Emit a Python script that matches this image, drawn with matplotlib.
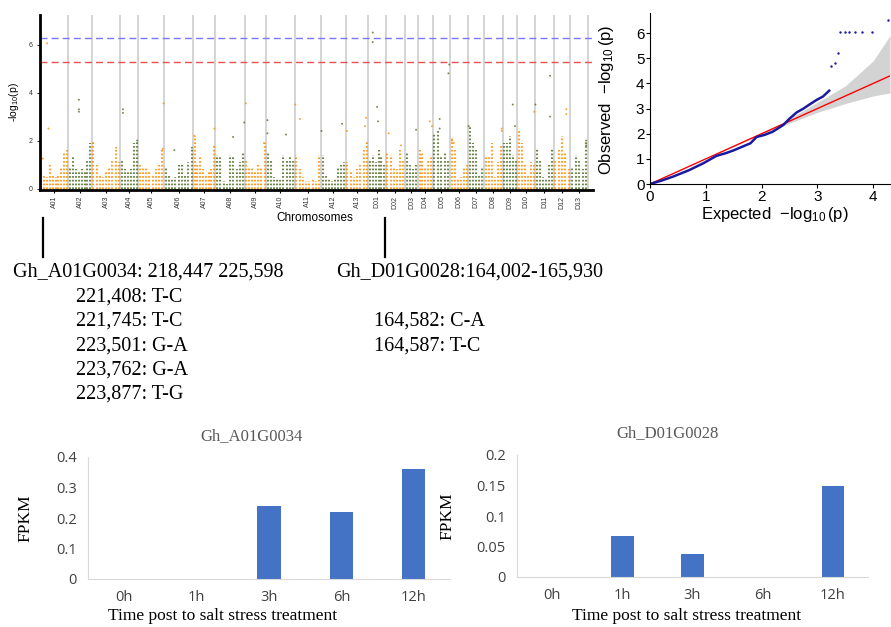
import numpy as np
import matplotlib
matplotlib.use('Agg')
import matplotlib.pyplot as plt
from matplotlib.lines import Line2D

matplotlib.rcParams['mathtext.fontset'] = 'custom'
matplotlib.rcParams['mathtext.rm'] = 'Liberation Sans'
matplotlib.rcParams['mathtext.it'] = 'Liberation Sans:italic'
plt.rcParams['font.family'] = ['Liberation Sans', 'DejaVu Sans']

# ---------------- data ----------------
chrom_names = ['A01', 'A02', 'A03', 'A04', 'A05', 'A06', 'A07', 'A08', 'A09', 'A10', 'A11', 'A12', 'A13',
               'D01', 'D02', 'D03', 'D04', 'D05', 'D06', 'D07', 'D08', 'D09', 'D10', 'D11', 'D12', 'D13']
chrom_len_mb = [99.9, 83.4, 100.3, 62.9, 92.0, 103.2, 78.3, 103.6, 75.0, 100.9, 93.3, 87.5, 80.0,
                61.5, 67.3, 46.7, 51.5, 61.9, 64.3, 55.3, 65.9, 51.0, 63.4, 66.1, 59.1, 61.5]

# upper edge of the dense SNP cloud along each chromosome (-log10 p)
cloud_tops = [
    [0.9, 0.6, 0.5, 1.0, 0.6, 0.5, 0.6, 0.9, 1.5, 1.6],
    [0.9, 1.3, 0.8, 0.7, 0.8, 0.7, 1.2, 1.9],
    [1.9, 1.0, 0.6, 0.5, 0.7, 0.9, 1.2, 1.7, 1.1],
    [1.2, 0.8, 0.7, 0.8, 1.9, 2.0],
    [1.0, 0.9, 0.9, 0.7, 0.6, 0.8, 1.0, 1.7],
    [0.9, 0.6, 0.4, 0.5, 1.0, 1.0, 0.6, 1.1, 1.7],
    [2.2, 1.0, 1.3, 0.8, 0.6, 0.7, 0.8, 1.8],
    [1.4, 1.3, 0.3, 0.2, 1.4, 1.3, 0.8, 1.1, 1.5],
    [1.2, 0.9, 0.9, 0.7, 1.0, 0.9, 1.9],
    [1.5, 1.2, 0.5, 0.4, 0.4, 1.4, 1.2, 1.3, 1.2],
    [1.4, 0.8, 0.5, 0.3, 0.3, 0.4, 0.3, 1.4],
    [1.4, 0.6, 0.4, 0.3, 0.4, 0.9, 1.0, 1.1],
    [1.1, 0.7, 0.5, 0.8, 1.0, 1.6, 2.0],
    [1.2, 1.4, 1.1, 1.6, 1.3, 1.0],
    [1.5, 1.4, 0.9, 0.8, 1.6, 1.2],
    [1.5, 1.0, 0.8, 1.0],
    [1.6, 1.5, 0.9, 1.2, 1.4],
    [2.3, 2.5, 1.3, 1.5, 1.2],
    [2.1, 1.6, 0.4, 0.5, 0.9, 1.0],
    [2.6, 1.9, 1.6, 0.6, 0.9],
    [1.4, 1.3, 1.9, 0.5, 1.1, 1.8],
    [1.9, 1.9, 2.2, 1.4, 1.2],
    [2.4, 1.9, 1.0, 0.6, 1.1, 1.0],
    [1.7, 1.2, 0.5, 0.4, 1.0, 1.7],
    [1.2, 1.6, 2.2, 1.5, 0.8],
    [0.9, 1.4, 1.2, 0.8, 2.0],
]

# isolated SNPs above the cloud: chromosome index, relative position, -log10 p
peak_chrom = [0, 0, 0, 1, 1, 1, 2, 2, 3, 3, 3, 4, 4, 5, 5, 6, 6, 7, 7, 8, 8, 9, 9, 9,
              10, 10, 11, 11, 12, 12, 12, 13, 13, 13, 13, 14, 14, 15, 16, 16,
              17, 17, 17, 17, 18, 18, 19, 20, 20, 21, 21, 22, 23, 23, 23, 24, 24, 25, 25]
peak_frac = [0.25, 0.30, 0.10, 0.45, 0.45, 0.45, 0.05, 0.85, 0.15, 0.15, 0.95, 0.98, 0.95, 0.35, 0.95,
             0.05, 0.95, 0.60, 0.98, 0.05, 0.90, 0.05, 0.05, 0.70,
             0.03, 0.20, 0.02, 0.85, 0.05, 0.90, 0.85, 0.25, 0.25, 0.50, 0.55, 0.15, 0.80, 0.85, 0.80, 0.95,
             0.95, 0.90, 0.40, 0.40, 0.10, 0.20, 0.02, 0.95, 0.95, 0.70, 0.85, 0.95, 0.80, 0.80, 0.02,
             0.75, 0.75, 0.90, 0.90]
peak_logp = [6.05, 2.5, 1.25, 3.7, 3.3, 3.2, 1.9, 1.7, 3.3, 3.15, 2.0, 3.55, 1.65, 1.6, 1.7,
             2.2, 2.5, 2.15, 2.75, 3.55, 1.9, 2.85, 2.3, 2.25,
             3.5, 2.9, 2.4, 2.7, 2.4, 2.95, 2.6, 6.5, 6.1, 3.4, 2.8, 2.3, 1.8, 2.45, 2.8, 2.6,
             5.17, 4.8, 2.9, 2.5, 2.0, 1.9, 2.6, 2.5, 2.4, 3.5, 2.6, 3.2, 4.7, 3.0, 3.5,
             3.3, 3.1, 2.0, 1.8]

threshold_strict = 6.27
threshold_loose = 5.27

# QQ plot
qq_exp = [0, 0.2, 0.42, 0.7, 0.96, 1.19, 1.35, 1.49, 1.65, 1.8, 1.91, 2.05, 2.2, 2.39,
          2.5, 2.63, 2.75, 2.85, 2.99, 3.1, 3.21]
qq_obs = [0, 0.13, 0.30, 0.55, 0.83, 1.12, 1.22, 1.33, 1.48, 1.62, 1.87, 1.95, 2.08, 2.35,
          2.6, 2.85, 3.0, 3.15, 3.35, 3.48, 3.71]
qq_top_exp = [3.24, 3.31, 3.36, 3.41, 3.49, 3.57, 3.67, 3.79, 3.97, 4.26]
qq_top_obs = [4.70, 4.80, 5.19, 6.05, 6.05, 6.05, 6.05, 6.05, 6.05, 6.51]
band_x = [0, 1, 2, 2.5, 3, 3.5, 4, 4.3]
band_lo = [0, 1, 1.97, 2.42, 2.85, 3.2, 3.5, 3.62]
band_hi = [0, 1, 2.03, 2.6, 3.25, 3.9, 4.9, 5.9]
diag = [0, 4.3]

# annotation text
gene_a = 'Gh_A01G0034: 218,447 225,598'
snps_a = ['221,408: T-C', '221,745: T-C', '223,501: G-A', '223,762: G-A', '223,877: T-G']
gene_d = 'Gh_D01G0028:164,002-165,930'
snps_d = ['164,582: C-A', '164,587: T-C']

# expression
times = ['0h', '1h', '3h', '6h', '12h']
fpkm_a = [0, 0, 0.24, 0.22, 0.36]
fpkm_d = [0, 0.067, 0.038, 0, 0.15]

# ---------------- figure ----------------
W, H = 891, 627
fig = plt.figure(figsize=(W / 100, H / 100), dpi=100)


def box(x0, y0, x1, y1):
    # pixel box (top-left origin) -> figure fraction rect
    return [x0 / W, 1 - y1 / H, (x1 - x0) / W, (y1 - y0) / H]


# ---- Manhattan ----
ax = fig.add_axes(box(40, 15, 593, 190))
orange, green = '#ff8c00', '#55702a'
starts = np.concatenate([[0], np.cumsum(chrom_len_mb)[:-1]])
ends = np.cumsum(chrom_len_mb)
for i, tops in enumerate(cloud_tops):
    col = orange if i % 2 == 0 else green
    n = len(tops)
    xs = starts[i] + (np.arange(n) + 0.5) / n * chrom_len_mb[i]
    ax.vlines(xs, 0, tops, colors=col, linewidth=1.5, alpha=0.85, linestyles=(0, (0.8, 1.0)))
for e in ends:
    ax.axvline(e, color='#d4d4d4', lw=1.4, zorder=0)
px = [starts[c] + f * chrom_len_mb[c] for c, f in zip(peak_chrom, peak_frac)]
pc = [orange if c % 2 == 0 else green for c in peak_chrom]
ax.scatter(px, peak_logp, s=2, c=pc, alpha=0.8, linewidths=0)
ax.axhline(threshold_strict, color='#7777ff', lw=1, ls=(0, (5, 3)))
ax.axhline(threshold_loose, color='#e85050', lw=1, ls=(0, (5, 3)))
ax.set_xlim(0, ends[-1] + 18)
ax.set_ylim(-0.06, 7.23)
ax.set_xticks((starts + ends) / 2)
ax.set_xticklabels(chrom_names, rotation=90, fontsize=5, color='#333333')
ax.set_yticks([0, 2, 4, 6])
ax.tick_params(axis='y', labelsize=5, length=2, colors='#333333')
ax.tick_params(axis='x', length=2, pad=2)
for s in ['top', 'right']:
    ax.spines[s].set_visible(False)
ax.spines['left'].set_linewidth(2)
ax.spines['bottom'].set_linewidth(2)
ax.set_xlabel('Chromosomes', fontsize=8.5)
ax.xaxis.set_label_coords(0.497, -0.125)
ax.set_ylabel('-log$_{10}$(p)', fontsize=7.5)
ax.yaxis.set_label_coords(-0.035, 0.5)

# ---- QQ ----
aq = fig.add_axes(box(650, 13, 890, 184))
aq.fill_between(band_x, band_lo, band_hi, color='#d3d3d3', lw=0)
aq.plot(diag, diag, color='red', lw=1)
aq.plot(qq_exp, qq_obs, color='#1a1aa0', lw=1.8)
aq.scatter(qq_top_exp, qq_top_obs, s=3, color='#1a1aa0', linewidths=0)
aq.set_xlim(0, 4.3)
aq.set_ylim(0, 6.8)
aq.set_xticks(range(5))
aq.set_yticks(range(7))
aq.tick_params(labelsize=11, length=3, pad=1)
for s in ['top', 'right']:
    aq.spines[s].set_visible(False)
aq.set_xlabel('Expected  $-\\log_{10}$(p)', fontsize=12)
aq.xaxis.set_label_coords(0.52, -0.12)
aq.set_ylabel('Observed  $-\\log_{10}$(p)', fontsize=12)
aq.yaxis.set_label_coords(-0.14, 0.49)

# ---- annotation block ----
serif = 'Liberation Serif'
for xb in [43, 385]:
    fig.add_artist(Line2D([xb / W, xb / W], [1 - 218 / H, 1 - 257 / H], color='black', lw=1.6))
row_y = [272, 297, 321, 346, 370, 394]
fig.text(13 / W, 1 - row_y[0] / H, gene_a, family=serif, fontsize=14.5, va='center')
for k, s in enumerate(snps_a):
    fig.text(76 / W, 1 - row_y[k + 1] / H, s, family=serif, fontsize=14.5, va='center')
fig.text(336 / W, 1 - row_y[0] / H, gene_d, family=serif, fontsize=14.5, va='center')
for k, s in enumerate(snps_d):
    fig.text(374 / W, 1 - row_y[k + 2] / H, s, family=serif, fontsize=14.5, va='center')


# ---- expression bars ----
def bar_panel(rect, vals, ymax, yticks, ylabs, title, tpos, ylpos, xlpos):
    a = fig.add_axes(rect)
    a.bar(times, vals, width=0.32, color='#4472c4')
    a.set_xlim(-0.5, 4.5)
    a.set_ylim(0, ymax)
    a.set_yticks(yticks)
    a.set_yticklabels(ylabs)
    for s in ['top', 'right']:
        a.spines[s].set_visible(False)
    for s in ['left', 'bottom']:
        a.spines[s].set_color('#d9d9d9')
    a.tick_params(length=0, labelsize=10.5, colors='#404040', pad=8)
    for t in a.get_xticklabels() + a.get_yticklabels():
        t.set_family('Open Sans')
    a.set_title(title, family=serif, fontsize=12, color='#595959', x=tpos[0], y=tpos[1])
    a.set_ylabel('FPKM', family=serif, fontsize=12.5)
    a.yaxis.set_label_coords(*ylpos)
    a.set_xlabel('Time post to salt stress treatment', family=serif, fontsize=12.5)
    a.xaxis.set_label_coords(*xlpos)
    return a


bar_panel(box(88, 457, 450, 579), fpkm_a, 0.4, [0, 0.1, 0.2, 0.3, 0.4],
          ['0', '0.1', '0.2', '0.3', '0.4'], 'Gh_A01G0034', (0.453, 1.07), (-0.15, 0.5), (0.373, -0.24))
bar_panel(box(517, 455, 868, 577), fpkm_d, 0.2, [0, 0.05, 0.1, 0.15, 0.2],
          ['0', '0.05', '0.1', '0.15', '0.2'], 'Gh_D01G0028', (0.43, 1.08), (-0.175, 0.5), (0.484, -0.255))

fig.savefig('out.png', dpi=100)
